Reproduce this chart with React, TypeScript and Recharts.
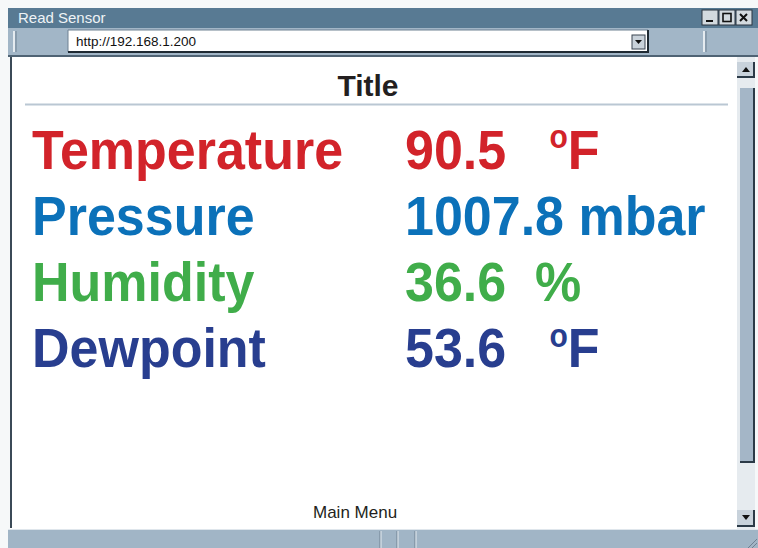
import React from "react";
import { BarChart, Bar, XAxis, YAxis, LabelList } from "recharts";

const sensors = ["Temperature", "Pressure", "Humidity", "Dewpoint"];
const readings = [90.5, 1007.8, 36.6, 53.6];
const units = ["°F", "mbar", "%", "°F"];

const rowColors = ["#d2232a", "#0b71b9", "#40ad4a", "#283e8f"];
const FONT = "'Liberation Sans', Arial, Helvetica, sans-serif";

const rows = sensors.map((name, i) => ({
  name,
  reading: readings[i],
  unit: units[i],
}));

// gap between the number and its unit, like the &nbsp; runs in the page
const unitGap = (unit: string) =>
  unit === "mbar" ? " " : unit === "%" ? "\u00a0\u00a0" : "\u00a0\u00a0\u00a0";

const NameTick = (props: any) => {
  const { y, payload, index } = props;
  return (
    <text
      transform={`translate(32 ${y + 18.5}) scale(1 1.08)`}
      fill={rowColors[index]}
      fontFamily={FONT}
      fontWeight="bold"
      fontSize={52}
    >
      {payload.value}
    </text>
  );
};

const ReadingLabel = (props: any) => {
  const { x, y, height, index } = props;
  const row = rows[index];
  const cy = y + height / 2;
  const degree = row.unit.startsWith("°");
  return (
    <text
      transform={`translate(${x} ${cy + 18.5}) scale(1 1.08)`}
      fill={rowColors[index]}
      fontFamily={FONT}
      fontWeight="bold"
      fontSize={52}
    >
      {row.reading.toFixed(1) + unitGap(row.unit)}
      {degree ? (
        <>
          <tspan fontSize={30} dy={-19}>
            o
          </tspan>
          <tspan dy={19}>{row.unit.slice(1)}</tspan>
        </>
      ) : (
        row.unit
      )}
    </text>
  );
};

const WindowChrome = () => (
  <svg width={758} height={548} style={{ position: "absolute", left: 0, top: 0 }}>
    {/* title bar */}
    <rect x={8} y={8} width={750} height={20} fill="#587a93" />
    <text x={18} y={23} fontFamily={FONT} fontSize={15} fill="#eef3f6">
      Read Sensor
    </text>
    {[0, 1, 2].map((i) => (
      <rect key={i} x={702 + i * 17} y={10} width={16} height={15} fill="#d3dadf" stroke="#2a3540" />
    ))}
    <rect x={706} y={20} width={7} height={2} fill="#111" />
    <rect x={723} y={13.5} width={8} height={8} fill="none" stroke="#111" strokeWidth={1.6} />
    <path d="M740 14 L747 21 M747 14 L740 21" stroke="#111" strokeWidth={2} />

    {/* address row */}
    <rect x={8} y={28} width={750} height={28} fill="#a2b6c7" />
    <line x1={14} y1={31} x2={14} y2={52} stroke="#e5ebf0" strokeWidth={2} />
    <line x1={16} y1={31} x2={16} y2={52} stroke="#6f8192" strokeWidth={1} />
    <rect x={68} y={30} width={580} height={22} fill="#fff" />
    <path d="M68 52 L68 30 L648 30" stroke="#6f8192" fill="none" />
    <path d="M68 52 L648 52 L648 30" stroke="#1f2a33" strokeWidth={2} fill="none" />
    <text x={76} y={46} fontFamily={FONT} fontSize={13.5} fill="#111">
      http://192.168.1.200
    </text>
    <rect x={632} y={35} width={13} height={14} fill="#c9d2da" stroke="#3a4550" />
    <path d="M635 40 L642 40 L638.5 44 Z" fill="#111" />
    <line x1={704} y1={31} x2={704} y2={52} stroke="#e5ebf0" strokeWidth={2} />
    <line x1={706} y1={31} x2={706} y2={52} stroke="#6f8192" strokeWidth={1} />
    <line x1={8} y1={56} x2={758} y2={56} stroke="#4f6374" strokeWidth={2} />

    {/* page */}
    <rect x={10} y={57} width={727} height={472} fill="#fff" />
    <line x1={11} y1={57} x2={11} y2={528} stroke="#3b4a57" strokeWidth={2} />
    <text x={368} y={96} textAnchor="middle" fontFamily={FONT} fontWeight="bold" fontSize={30} fill="#231f20">
      Title
    </text>
    <line x1={25} y1={104.5} x2={728} y2={104.5} stroke="#bac7d3" strokeWidth={2} />
    <text x={313} y={518} fontFamily={FONT} fontSize={17} fill="#231f20">
      Main Menu
    </text>

    {/* scrollbar */}
    <rect x={737} y={57} width={18} height={472} fill="#e6ebef" />
    <rect x={740} y={88} width={14} height={374} fill="#a4b6c7" />
    <path d="M754 88 L754 462 L740 462" stroke="#2b3a47" strokeWidth={2} fill="none" />
    <rect x={737} y={62} width={17} height={15} fill="#c8d2db" />
    <path d="M754 62 L754 77 L737 77" stroke="#2b3a47" strokeWidth={2} fill="none" />
    <path d="M742 72 L750 72 L746 67 Z" fill="#111" />
    <rect x={737} y={510} width={17} height={16} fill="#c8d2db" />
    <path d="M754 510 L754 526 L737 526" stroke="#2b3a47" strokeWidth={2} fill="none" />
    <path d="M742 515 L750 515 L746 520 Z" fill="#111" />

    {/* status bar */}
    <rect x={8} y={529} width={750} height={19} fill="#a1b5c6" />
    <line x1={8} y1={529.5} x2={758} y2={529.5} stroke="#dfe6ec" />
    {[380, 397, 415].map((sx) => (
      <g key={sx}>
        <line x1={sx} y1={531} x2={sx} y2={548} stroke="#6f8192" />
        <line x1={sx + 1} y1={531} x2={sx + 1} y2={548} stroke="#e5ebf0" />
      </g>
    ))}
    <path d="M748 548 L757 539 M752 548 L757 543" stroke="#6f8192" />
  </svg>
);

export default function App() {
  return (
    <div
      style={{
        position: "absolute",
        left: 0,
        top: 0,
        width: 758,
        height: 548,
        background: "#f6f8f9",
        overflow: "hidden",
      }}
    >
      <WindowChrome />
      <div style={{ position: "absolute", left: 0, top: 0 }}>
        <BarChart
          width={758}
          height={548}
          data={rows}
          layout="vertical"
          margin={{ top: 117, right: 60, bottom: 166, left: 0 }}
        >
          <XAxis type="number" hide domain={[0, "dataMax"]} />
          <YAxis
            type="category"
            dataKey="name"
            width={405}
            axisLine={false}
            tickLine={false}
            tick={<NameTick />}
            interval={0}
          />
          <Bar dataKey="reading" fill="none" isAnimationActive={false}>
            <LabelList dataKey="reading" content={<ReadingLabel />} />
          </Bar>
        </BarChart>
      </div>
    </div>
  );
}
